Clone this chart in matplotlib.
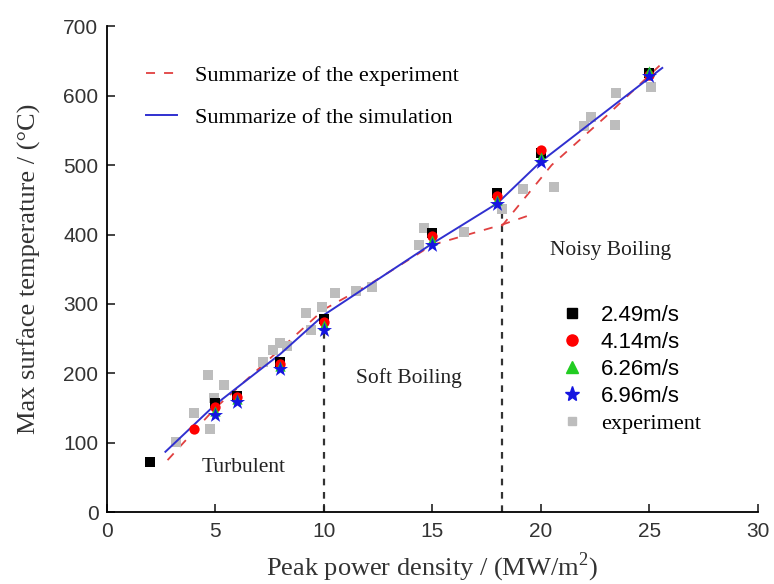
import matplotlib.pyplot as plt
from matplotlib.lines import Line2D

# simulated max surface temperature per flow speed
x_249 = [2, 5, 6, 8, 10, 15, 18, 20, 25]
y_249 = [72, 157, 168, 216, 278, 402, 460, 518, 632]
x_414 = [4, 5, 6, 8, 10, 15, 18, 20, 25]
y_414 = [120, 152, 166, 213, 274, 398, 455, 522, 630]
x_626 = [5, 6, 8, 10, 15, 18, 20, 25]
y_626 = [146, 163, 210, 270, 392, 450, 512, 636]
x_696 = [5, 6, 8, 10, 15, 18, 20, 25]
y_696 = [140, 159, 206, 263, 385, 444, 505, 628]

# experiment points
x_exp = [3.2, 4.0, 4.65, 5.4, 4.75, 4.93, 7.2, 7.65, 8.0, 8.3, 9.2, 9.4, 9.9,
         10.5, 11.5, 12.2, 14.6, 14.4, 16.45, 18.2, 19.2, 20.6, 22.0, 22.3,
         23.4, 23.45, 25.1]
y_exp = [101, 143, 198, 183, 120, 164, 216, 234, 244, 239, 287, 263, 296,
         316, 318, 325, 410, 385, 404, 437, 465, 469, 556, 570, 558, 604, 612]

# summary lines
x_sum_exp = [2.8, 5, 8, 10, 12.2, 15, 18.2, 19.5]
y_sum_exp = [75, 150, 235, 292, 330, 385, 414, 428]
x_sum_exp2 = [18.2, 20.5, 23, 25.7]
y_sum_exp2 = [412, 500, 570, 650]
x_sum_sim = [2.7, 5, 8, 10, 15, 18, 20, 25.6]
y_sum_sim = [87, 155, 228, 284, 387, 445, 505, 640]

# regime boundaries
x_bound = [10, 18.2]
y_bound_top = [263, 440]

plt.rcParams['mathtext.fontset'] = 'custom'
plt.rcParams['mathtext.rm'] = 'Liberation Serif'

fig = plt.figure(figsize=(7.74, 5.84), dpi=100)
ax = fig.add_axes([0.138, 0.123, 0.841, 0.832])

serif = 'Liberation Serif'
sans = 'Liberation Sans'

for xb, yt in zip(x_bound, y_bound_top):
    ax.plot([xb, xb], [0, yt], color='#333333', linestyle=(0, (3, 3)), lw=1.6, zorder=1)

ax.plot(x_sum_exp, y_sum_exp, color='#e04040', linestyle=(0, (5, 5)), lw=1.3, zorder=2)
ax.plot(x_sum_exp2, y_sum_exp2, color='#e04040', linestyle=(0, (5, 5)), lw=1.3, zorder=2)
ax.plot(x_sum_sim, y_sum_sim, color='#3030d0', lw=1.4, zorder=3)

ax.scatter(x_exp, y_exp, marker='s', s=55, color='#bdbdbd', zorder=2, linewidths=0)
ax.scatter(x_249, y_249, marker='s', s=50, color='black', zorder=4, linewidths=0)
ax.scatter(x_414, y_414, marker='o', s=55, color='red', zorder=5, linewidths=0)
ax.scatter(x_626, y_626, marker='^', s=55, color='#22cc22', zorder=6, linewidths=0)
ax.scatter(x_696, y_696, marker='*', s=130, color='#1515e0', zorder=7, linewidths=0)

ax.set_xlim(0, 30)
ax.set_ylim(0, 700)
ax.set_xticks([0, 5, 10, 15, 20, 25, 30])
ax.set_yticks(range(0, 701, 100))
ax.spines['top'].set_visible(False)
ax.spines['right'].set_visible(False)
ax.spines['left'].set_linewidth(1.3)
ax.spines['bottom'].set_linewidth(1.3)
ax.tick_params(direction='in', length=6, width=1.2, labelsize=15, colors='#222222')
for lab in ax.get_xticklabels() + ax.get_yticklabels():
    lab.set_fontfamily(sans)
    lab.set_color('#333333')
ax.tick_params(axis='x', pad=7)
ax.tick_params(axis='y', pad=6)

ax.set_xlabel('Peak power density / (MW/m$^2$)', fontsize=19, fontfamily=serif, color='#333333', labelpad=7)
ax.set_ylabel('Max surface temperature / (°C)', fontsize=19, fontfamily=serif, color='#333333', labelpad=16)

ax.text(6.3, 65, 'Turbulent', fontsize=15.5, fontfamily=serif, ha='center', va='center', color='#222222')
ax.text(13.9, 193, 'Soft Boiling', fontsize=15.5, fontfamily=serif, ha='center', va='center', color='#222222')
ax.text(23.2, 377, 'Noisy Boiling', fontsize=15.5, fontfamily=serif, ha='center', va='center', color='#222222')

h1 = [Line2D([], [], color='#e04040', linestyle=(0, (5, 5)), lw=1.3),
      Line2D([], [], color='#3030d0', lw=1.4)]
leg1 = ax.legend(h1, ['Summarize of the experiment', 'Summarize of the simulation'],
                 loc='upper left', bbox_to_anchor=(0.03, 0.96), frameon=False,
                 prop={'family': serif, 'size': 16}, handlelength=1.4, handletextpad=0.8,
                 labelspacing=0.95)
ax.add_artist(leg1)

h2 = [Line2D([], [], marker='s', color='black', ls='', ms=7),
      Line2D([], [], marker='o', color='red', ls='', ms=8),
      Line2D([], [], marker='^', color='#22cc22', ls='', ms=8),
      Line2D([], [], marker='*', color='#1515e0', ls='', ms=11),
      Line2D([], [], marker='s', color='#bdbdbd', ls='', ms=6)]
leg2 = ax.legend(h2, ['2.49m/s', '4.14m/s', '6.26m/s', '6.96m/s', 'experiment'],
                 loc='upper left', bbox_to_anchor=(0.667, 0.467), frameon=False,
                 prop={'family': sans, 'size': 16}, handlelength=1.0, handletextpad=0.8,
                 labelspacing=0.27)
leg2.get_texts()[-1].set_fontfamily(serif)

fig.savefig('out.png', dpi=100)
